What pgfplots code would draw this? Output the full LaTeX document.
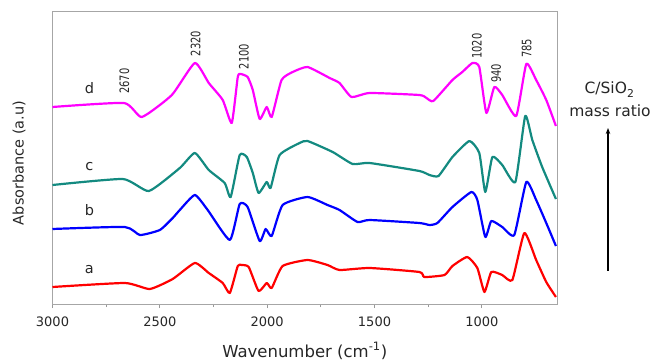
\documentclass[border=0pt]{standalone}
\usepackage{fontspec}
\setmainfont{DejaVu Sans}
\usepackage{graphicx}
\usepackage{pgfplots}
\pgfplotsset{compat=1.18}
\usetikzlibrary{arrows.meta}
\definecolor{cd}{HTML}{FF00FF}
\definecolor{cc}{HTML}{138A80}
\definecolor{cb}{HTML}{0000FF}
\definecolor{ca}{HTML}{FF0000}
\begin{document}
\begin{tikzpicture}
\path[use as bounding box] (-52.5bp,-56bp) rectangle (607.5bp,304bp);
\begin{axis}[
  at={(0,0)}, anchor=south west,
  scale only axis, width=504.5bp, height=292bp,
  xmin=650, xmax=3000, ymin=56, ymax=348, x dir=reverse,
  xtick={3000,2500,2000,1500,1000}, minor x tick num=1,
  ytick=\empty,
  tick align=outside, xtick pos=bottom,
  major tick length=4bp, minor tick length=3bp,
  every tick/.style={gray!80, line width=0.8bp},
  axis line style={gray!70, line width=1bp},
  scaled x ticks=false,
  /pgf/number format/1000 sep={},
  /pgf/number format/assume math mode=true,
  xticklabel style={font=\fontsize{13bp}{13bp}\selectfont, text=black!85, yshift=-5bp},
  xlabel={Wavenumber (cm\textsuperscript{-1})},
  xlabel style={at={(axis description cs:0.5,-0.1815)}, anchor=base, font=\fontsize{16.5bp}{16.5bp}\selectfont, text=black!85},
  ylabel={Absorbance (a.u)},
  ylabel style={at={(axis description cs:-0.0664,0.483)}, anchor=center, font=\fontsize{14.5bp}{14.5bp}\selectfont, text=black!85},
  clip=false,
  every axis plot/.append style={line width=2.2bp, smooth, tension=0.3, no markers, line join=round},
]
\addplot[ca] coordinates {(3000,73) (2663,77) (2547,71) (2440,81) (2337,97) (2272,87) (2207,77) (2174,67) (2137,94) (2119,95) (2086,93) (2040,69) (2002,77) (1979,72) (1928,94) (1812,100) (1719,95) (1663,90) (1523,92) (1291,88) (1268,83) (1174,85) (1137,94) (1068,103) (1021,92) (988,68) (956,88) (905,85) (858,80) (802,127) (747,100) (700,78) (655,63)};
\addplot[cb] coordinates {(3000,131) (2663,133) (2593,125) (2500,130) (2440,142) (2407,150) (2337,165) (2277,150) (2174,120) (2128,156) (2091,153) (2035,119) (2007,131) (1979,124) (1928,155) (1812,163) (1719,155) (1663,150) (1579,138) (1523,140) (1291,137) (1244,135) (1207,137) (1137,153) (1049,168) (1021,160) (984,123) (956,139) (905,133) (849,125) (793,178) (747,160) (700,137) (655,114)};
\addplot[cc] coordinates {(3000,175) (2672,181) (2551,169) (2407,192) (2337,207) (2272,190) (2198,177) (2170,163) (2128,205) (2095,203) (2067,187) (2040,167) (2002,178) (1984,172) (1942,205) (1849,217) (1812,219) (1695,208) (1602,196) (1523,197) (1291,189) (1244,185) (1202,184) (1137,203) (1058,219) (1012,207) (984,168) (951,203) (905,195) (844,178) (798,244) (765,220) (719,193) (655,161)};
\addplot[cd] coordinates {(3000,253) (2667,257) (2584,243) (2444,265) (2337,297) (2272,277) (2207,260) (2165,237) (2137,283) (2123,286) (2091,283) (2067,270) (2035,241) (2002,253) (1979,243) (1933,280) (1881,288) (1812,293) (1709,282) (1663,277) (1607,263) (1523,267) (1291,265) (1258,262) (1226,259) (1137,280) (1091,288) (1044,297) (1012,293) (979,247) (942,273) (905,265) (840,244) (793,296) (747,280) (700,260) (655,234)};
\begin{scope}[every node/.style={font=\fontsize{14.5bp}{14.5bp}\selectfont, anchor=base, text=black!85}]
\node at (axis cs:2828,266) {d};
\node at (axis cs:2828,189) {c};
\node at (axis cs:2828,144) {b};
\node at (axis cs:2828,87) {a};
\end{scope}
\begin{scope}[every node/.style={font=\fontsize{13bp}{13bp}\selectfont, rotate=90, anchor=center, inner sep=0pt, text=black!85}]
\node at (axis cs:2665,279) {\scalebox{0.76}[1]{2670}};
\node at (axis cs:2333,316.5) {\scalebox{0.76}[1]{2320}};
\node at (axis cs:2109,303.5) {\scalebox{0.76}[1]{2100}};
\node at (axis cs:1023,314) {\scalebox{0.76}[1]{1020}};
\node at (axis cs:933,286.5) {\scalebox{0.76}[1]{940}};
\node at (axis cs:791,311.5) {\scalebox{0.76}[1]{785}};
\end{scope}
\end{axis}
\node[font=\fontsize{15.5bp}{15.5bp}\selectfont, anchor=base, text=black!85] at (557bp,210bp) {C/SiO\textsubscript{2}};
\node[font=\fontsize{15.5bp}{15.5bp}\selectfont, anchor=base, text=black!85] at (557.5bp,187bp) {mass ratio};
\draw[line width=1.1bp, -{Stealth[length=6bp,width=4.5bp]}] (555.5bp,33bp) -- (555.5bp,176bp);
\end{tikzpicture}
\end{document}
